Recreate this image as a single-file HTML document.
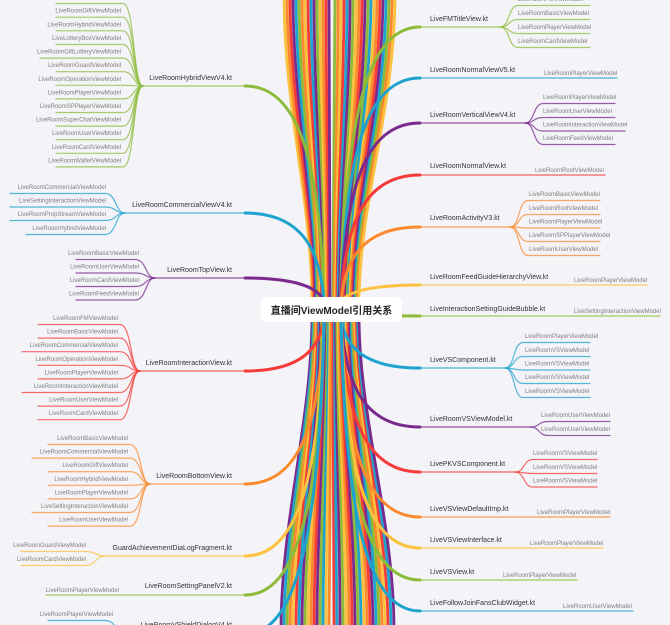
<!DOCTYPE html>
<html><head><meta charset="utf-8"><style>
html,body{margin:0;padding:0;background:#f3f3f8;}
svg{display:block}
.l{font-family:"Liberation Sans","Noto Sans CJK SC",sans-serif;font-size:7px;fill:#333;}
.c{font-family:"Liberation Sans","Noto Sans CJK SC",sans-serif;font-size:6px;fill:#808080}
.t{font-family:"Liberation Sans","Noto Sans CJK SC",sans-serif;font-size:10px;fill:#222;font-weight:bold}
</style></head><body>
<svg id="s" width="670" height="625" viewBox="0 0 670 625" xmlns="http://www.w3.org/2000/svg">
<rect width="670" height="625" fill="#f3f3f8"/>
<g id="fan"></g>
<g id="br"></g>
<rect x="261" y="297" width="141" height="25" rx="4" fill="#ffffff"/>
<text class="t" x="331.5" y="314" text-anchor="middle">直播间ViewModel引用关系</text>
</svg>
<script>
var C={g:"#8cbb3a",b:"#1ea3cf",p:"#7a2a8c",r:"#f53c3a",o:"#fb8a2c",y:"#fcc23f"};
var cyc=["y","o","r","p","b","g","o","y","r","b","p","g","y","o","r","p","g","b"];
var NS="http://www.w3.org/2000/svg";
var fan=document.getElementById("fan"),br=document.getElementById("br");
function el(p,tag,a,txt){var e=document.createElementNS(NS,tag);for(var k in a)e.setAttribute(k,a[k]);if(txt!=null)e.textContent=txt;p.appendChild(e);return e;}
function path(p,d,col,w,op){el(p,"path",{d:d,stroke:col,"stroke-width":w,fill:"none","stroke-linecap":"round",opacity:op||1});}
var i,x,cx;
for(i=0;i<16;i++){x=284+i*3;cx=312+i*1.2;path(fan,"M"+x+",-5 C"+x+",110 "+cx+",200 "+cx+",305",C[cyc[i%cyc.length]],2.8);}
for(i=0;i<21;i++){x=335+i*3;cx=333+i*1.3;path(fan,"M"+x+",-5 C"+x+",110 "+cx+",200 "+cx+",305",C[cyc[(i+5)%cyc.length]],2.8);}
for(i=0;i<17;i++){x=281+i*3;cx=312+i*1.2;path(fan,"M"+x+",630 C"+x+",520 "+cx+",420 "+cx+",315",C[cyc[(i+3)%cyc.length]],2.8);}
for(i=0;i<21;i++){x=334+i*3;cx=333+i*1.3;path(fan,"M"+x+",630 C"+x+",520 "+cx+",420 "+cx+",315",C[cyc[(i+8)%cyc.length]],2.8);}
var L=[
["LiveRoomHybridViewV4.kt",80,86,143,"g",121,48,[["LiveRoomBasicViewModel",-1],["LiveRoomGiftViewModel",12.7],["LiveRoomHybridViewModel",26.3],["LiveLotteryBoxViewModel",40],["LiveRoomGiftLotteryViewModel",53.6],["LiveRoomGuardViewModel",67.2],["LiveRoomOperationViewModel",80.8],["LiveRoomPlayerViewModel",94.4],["LiveRoomSPPlayerViewModel",108],["LiveRoomSuperChatViewModel",121.6],["LiveRoomUserViewModel",135.2],["LiveRoomCardViewModel",148.8],["LiveRoomWalletViewModel",162.4]]],
["LiveRoomCommercialViewV4.kt",207,213,125,"b",106,18,[["LiveRoomCommercialViewModel",189],["LiveSettingInteractionViewModel",202.5],["LiveRoomPropStreamViewModel",216],["LiveRoomHybridViewModel",230]]],
["LiveRoomTopView.kt",272,278,155,"p",139,68,[["LiveRoomBasicViewModel",255],["LiveRoomUserViewModel",268.5],["LiveRoomCardViewModel",282],["LiveRoomFeedViewModel",295.5]]],
["LiveRoomInteractionView.kt",365,371,140,"r",118,30,[["LiveRoomFMViewModel",320],["LiveRoomBasicViewModel",333.6],["LiveRoomCommercialViewModel",347.2],["LiveRoomOperationViewModel",360.8],["LiveRoomPlayerViewModel",374.4],["LiveRoomInteractionViewModel",388],["LiveRoomUserViewModel",401.6],["LiveRoomCardViewModel",415.2]]],
["LiveRoomBottomView.kt",478,484,150,"o",128,40,[["LiveRoomBasicViewModel",440],["LiveRoomCommercialViewModel",453.6],["LiveRoomGiftViewModel",467.2],["LiveRoomHybridViewModel",480.8],["LiveRoomPlayerViewModel",494.4],["LiveSettingInteractionViewModel",508],["LiveRoomUserViewModel",521.6]]],
["GuardAchievementDiaLogFragment.kt",550,556,105,"y",86,13,[["LiveRoomGuardViewModel",547],["LiveRoomCardViewModel",561]]],
["LiveRoomSettingPanelV2.kt",588,595,null,"g",119,46,[["LiveRoomPlayerViewModel",592]]],
["LiveRoomVShieldDialogV4.kt",627,634,125,"b",113,40,[["LiveRoomPlayerViewModel",616],["LiveRoomUserViewModel",630]]]
];
L.forEach(function(b){
 var col=C[b[4]],uy=b[2],fx=b[3];
 path(br,"M245,"+uy+" C300,"+uy+" 320,"+(uy+(310-uy)*0.35)+" 324,"+(uy<310?302:318),col,3);
 var endx=fx===null?b[6]:fx;
 path(br,"M245,"+uy+" L"+endx+","+uy,col,1.3,0.8);
 el(br,"text",{"class":"l",x:232,y:b[1],"text-anchor":"end"},b[0]);
 b[7].forEach(function(c){
  var cy=c[1]+4.5;
  if(fx!==null){
   path(br,"M"+fx+","+uy+" C"+(fx-10)+","+uy+" "+(fx-8)+","+cy+" "+(fx-20)+","+cy+" L"+(c[0].length>26?b[6]-8:b[6]+8)+","+cy,col,1.2,0.75);
  }
  el(br,"text",{"class":"c",x:b[5],y:c[1],"text-anchor":"end"},c[0]);
 });
});
var R=[
["LiveFMTitleView.kt",21,27,500,"g",518,[["LiveRoomFMViewModel",1],["LiveRoomBasicViewModel",15],["LiveRoomPlayerViewModel",29],["LiveRoomCardViewModel",43]],590],
["LiveRoomNormalViewV5.kt",72,78,null,"b",544,[["LiveRoomPlayerViewModel",75]],617],
["LiveRoomVerticalViewV4.kt",117,123,525,"p",543,[["LiveRoomPlayerViewModel",99],["LiveRoomUserViewModel",113],["LiveRoomInteractionViewModel",126.5],["LiveRoomFeedViewModel",140]],615],
["LiveRoomNormalView.kt",168,175,null,"r",535,[["LiveRoomRootViewModel",172]],605],
["LiveRoomActivityV3.kt",220,227,510,"o",529,[["LiveRoomBasicViewModel",196],["LiveRoomRootViewModel",210],["LiveRoomPlayerViewModel",223.5],["LiveRoomSPPlayerViewModel",237],["LiveRoomUserViewModel",251]],600],
["LiveRoomFeedGuideHierarchyView.kt",279,285,null,"y",574,[["LiveRoomPlayerViewModel",282]],648],
["LiveInteractionSettingGuideBubble.kt",311,316,null,"g",574,[["LiveSettingInteractionViewModel",313]],660],
["LiveVSComponent.kt",362,368,505,"b",525,[["LiveRoomPlayerViewModel",338],["LiveRoomVSViewModel",352],["LiveRoomVSViewModel",365.5],["LiveRoomVSViewModel",379],["LiveRoomVSViewModel",393]],590],
["LiveRoomVSViewModel.kt",421,427,530,"p",541,[["LiveRoomUserViewModel",417],["LiveRoomUserViewModel",431]],610],
["LivePKVSComponent.kt",466,472,515,"r",533,[["LiveRoomVSViewModel",455],["LiveRoomVSViewModel",469],["LiveRoomVSViewModel",482.5]],597],
["LiveVSViewDefaultImp.kt",511,517,null,"o",537,[["LiveRoomPlayerViewModel",514]],610],
["LiveVSViewInterface.kt",542,548,null,"y",530,[["LiveRoomPlayerViewModel",545]],603],
["LiveVSView.kt",574,580,null,"g",503,[["LiveRoomPlayerViewModel",577]],577],
["LiveFollowJoinFansClubWidget.kt",605,611,null,"b",563,[["LiveRoomUserViewModel",608]],633]
];
R.forEach(function(b){
 var col=C[b[4]],uy=b[2],fx=b[3];
 path(br,"M420,"+uy+" C365,"+uy+" 345,"+(uy+(310-uy)*0.35)+" 341,"+(uy<310?302:318),col,3);
 var endx=fx===null?b[7]:fx;
 path(br,"M420,"+uy+" L"+endx+","+uy,col,1.3,0.8);
 el(br,"text",{"class":"l",x:430,y:b[1]},b[0]);
 b[6].forEach(function(c){
  var cy=c[1]+4.5;
  if(fx!==null){
   path(br,"M"+fx+","+uy+" C"+(fx+10)+","+uy+" "+(fx+8)+","+cy+" "+(fx+18)+","+cy+" L"+(b[7]+(c[0].length>26?10:0))+","+cy,col,1.2,0.75);
  }
  el(br,"text",{"class":"c",x:b[5],y:c[1]},c[0]);
 });
});
</script>
</body></html>
